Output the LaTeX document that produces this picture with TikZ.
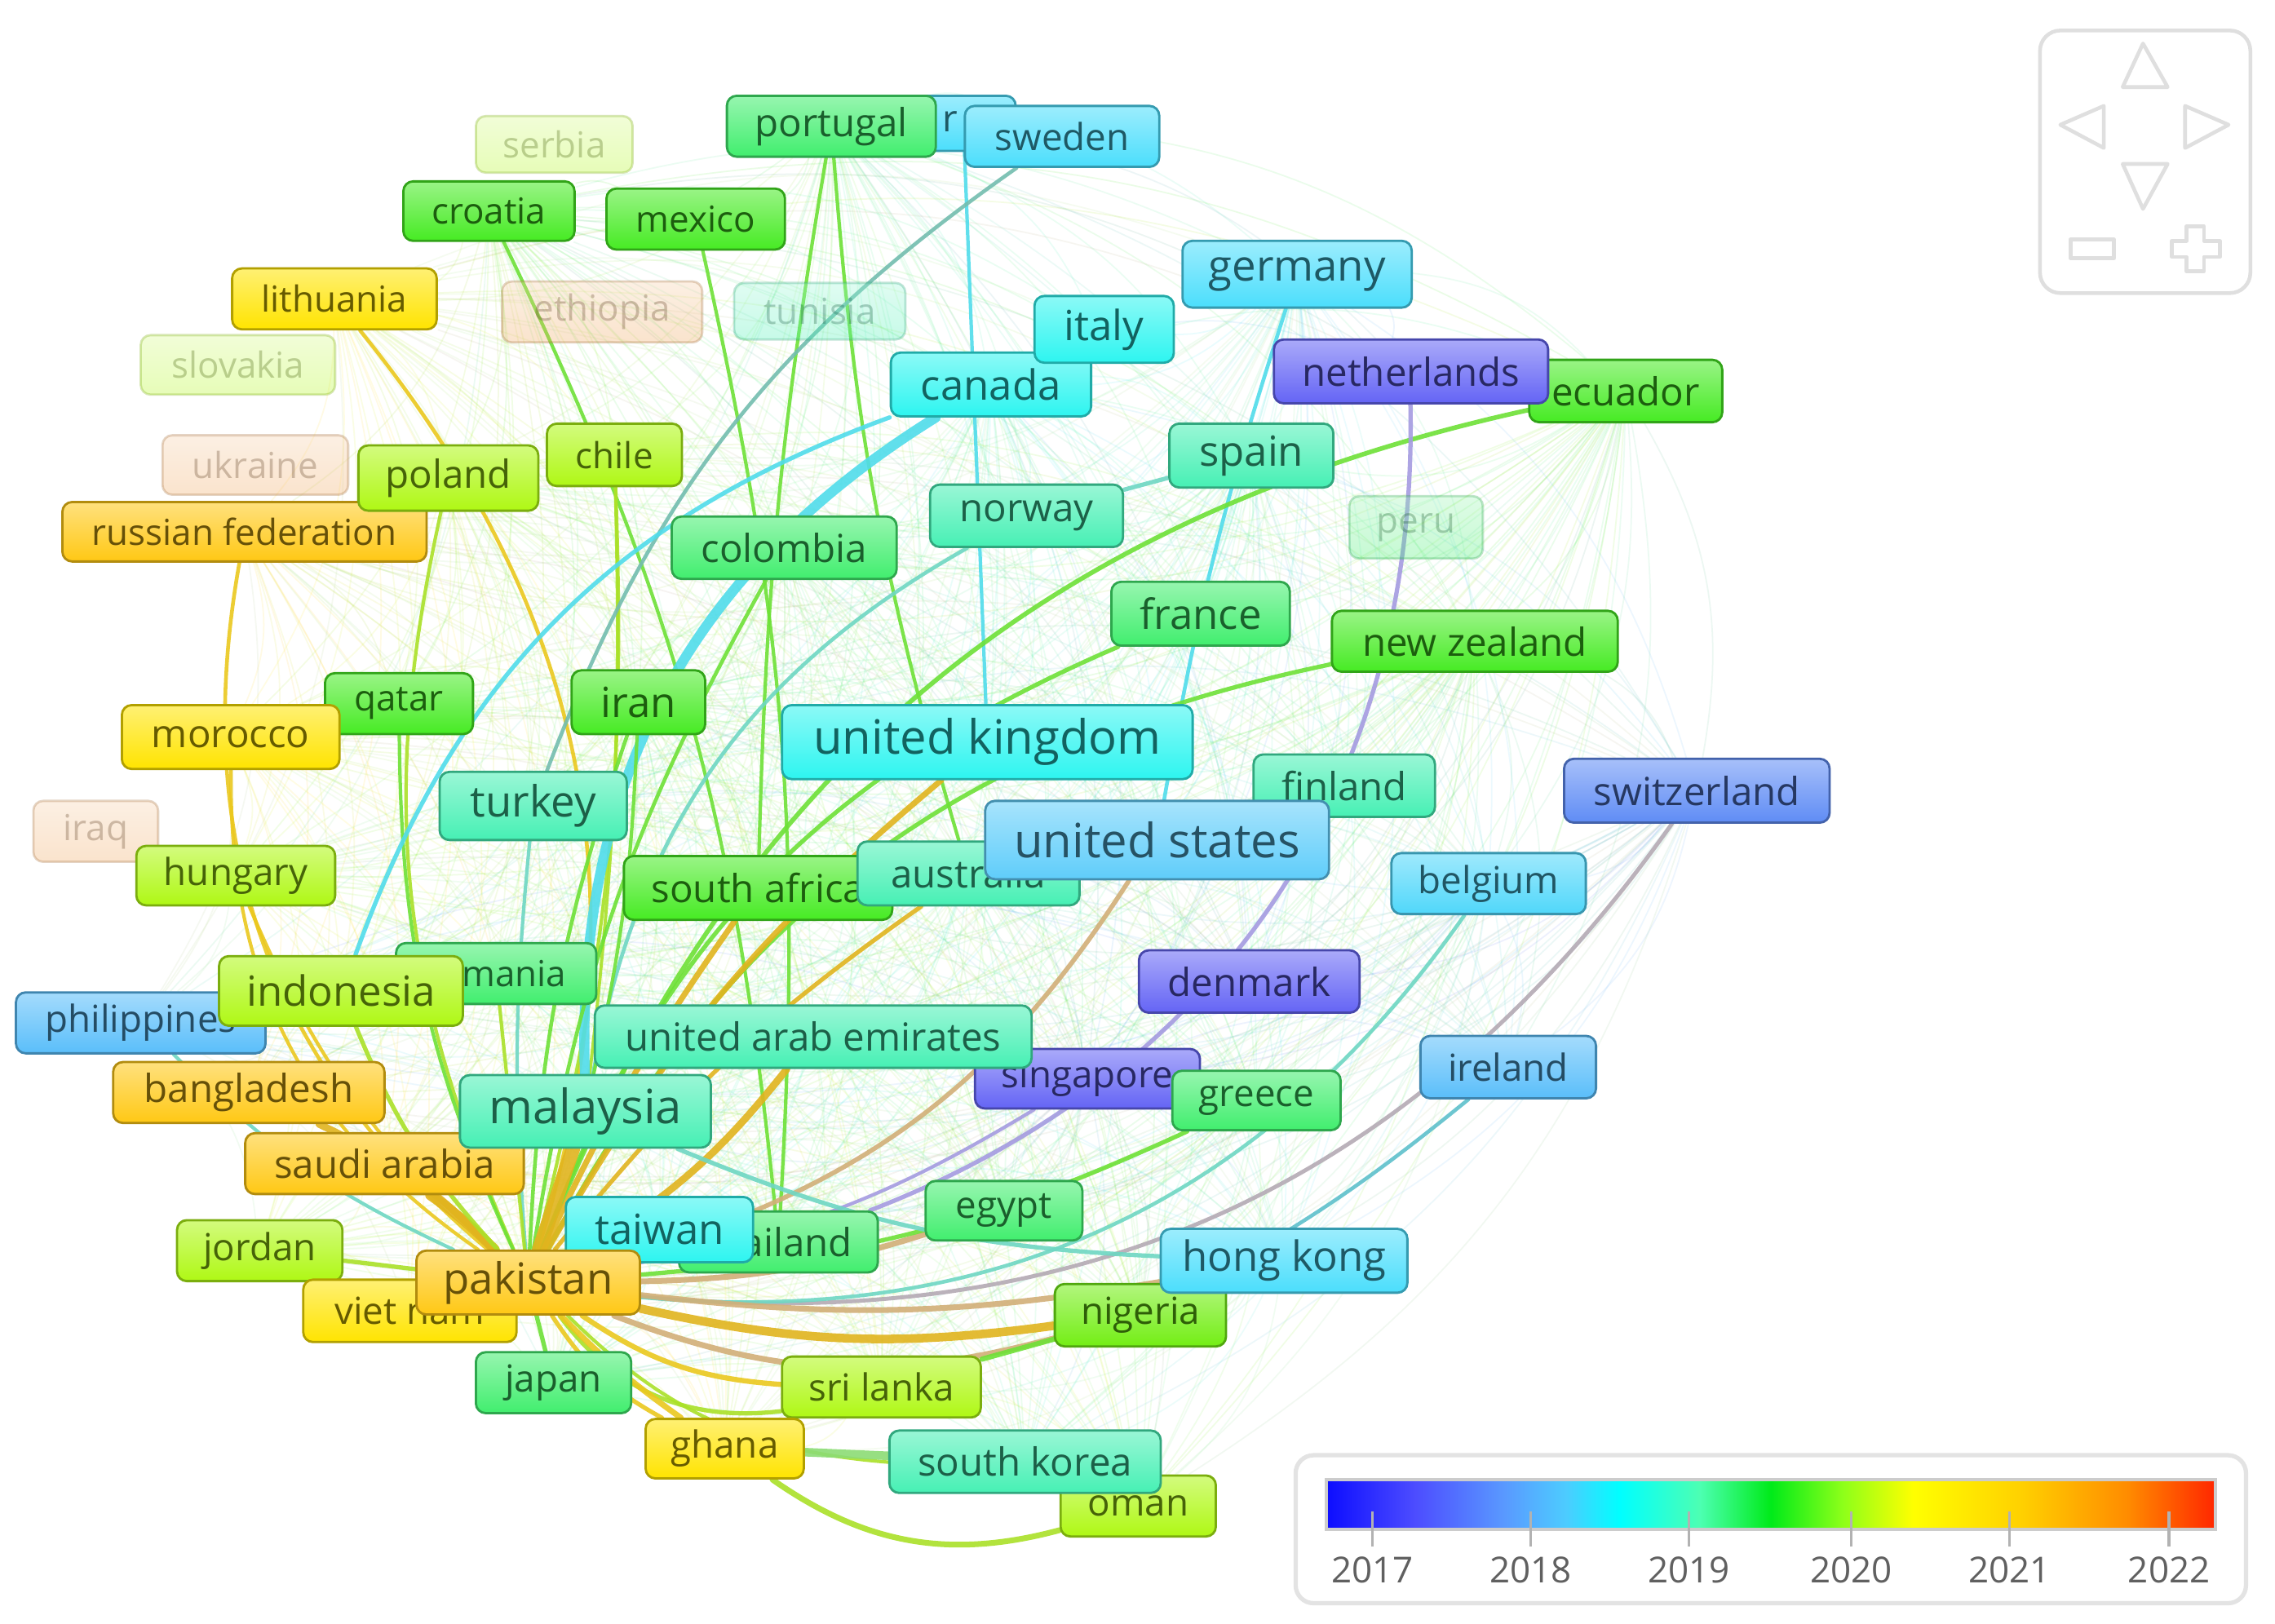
\documentclass[tikz,border=0pt]{standalone}
\usepackage{fontspec}
\setmainfont{Open Sans}
\pgfdeclarelayer{bgl}\pgfdeclarelayer{edges}\pgfsetlayers{bgl,edges,main}
\definecolor{cPur}{RGB}{100,100,245}
\definecolor{cSwi}{RGB}{95,140,245}
\definecolor{cLB}{RGB}{90,190,250}
\definecolor{cBel}{RGB}{80,215,250}
\definecolor{cUS}{RGB}{95,205,250}
\definecolor{cSky}{RGB}{75,222,252}
\definecolor{cCy}{RGB}{45,245,240}
\definecolor{cAq}{RGB}{70,240,180}
\definecolor{cGr}{RGB}{65,238,110}
\definecolor{cG}{RGB}{70,235,35}
\definecolor{cNG}{RGB}{115,238,20}
\definecolor{cYG}{RGB}{175,248,20}
\definecolor{cY}{RGB}{255,228,0}
\definecolor{cO}{RGB}{255,200,20}
\definecolor{cPe}{RGB}{240,165,90}
\definecolor{eY}{RGB}{235,200,30}
\definecolor{eO}{RGB}{225,180,30}
\definecolor{eG}{RGB}{110,225,55}
\definecolor{eYG}{RGB}{170,225,40}
\definecolor{eT}{RGB}{110,215,195}
\definecolor{eC}{RGB}{80,220,235}
\definecolor{eP}{RGB}{165,155,225}
\definecolor{eTan}{RGB}{210,175,120}
\definecolor{eGray}{RGB}{180,170,180}
\pgfdeclarehorizontalshading{vosbar}{100bp}{rgb(0bp)=(0.05,0.05,1); rgb(25bp)=(0.05,0.05,1); rgb(30bp)=(0.3,0.3,1); rgb(35bp)=(0.35,0.6,1); rgb(38.5bp)=(0.3,0.8,1); rgb(41.5bp)=(0,1,1); rgb(46bp)=(0.3,1,0.7); rgb(50bp)=(0,0.92,0.1); rgb(54bp)=(0.55,1,0.1); rgb(58bp)=(1,1,0); rgb(64bp)=(1,0.82,0); rgb(70bp)=(1,0.55,0); rgb(75bp)=(1,0.15,0); rgb(100bp)=(1,0.15,0)}
\tikzset{
  lbl/.style={rectangle, rounded corners=1.2mm, draw=#1!70!black, line width=0.8pt,
    top color=#1!55!white, bottom color=#1, text=#1!40!black, inner sep=0pt},
  flbl/.style={lbl=#1, opacity=0.3},
  faint/.style={line width=0.5pt, opacity=0.11},
  navline/.style={draw=gray!25, line width=1.3pt, line join=round},
}
\newcommand\vlab[8]{\node[lbl=#6, minimum width={(#4-#2)*0.17787mm}, minimum height={(#5-#3)*0.17787mm}, font=\fontsize{#7pt}{#7pt}\selectfont] (#1) at ({(#2+#4)/2},{(#3+#5)/2}) {#8};}
\newcommand\vflab[8]{\node[flbl=#6, minimum width={(#4-#2)*0.17787mm}, minimum height={(#5-#3)*0.17787mm}, font=\fontsize{#7pt}{#7pt}\selectfont] (#1) at ({(#2+#4)/2},{(#3+#5)/2}) {#8};}
\newcommand\vE[5]{\draw[draw=#3, line width=#4, line cap=round, opacity=0.9] (#1) to[bend left=#5] (#2);}
\def\meshlist{portugal/cGr, sweden/cSky, croatia/cG, mexico/cG, lithuania/cY, germany/cSky, italy/cCy, canada/cCy, netherlands/cPur, ecuador/cG, spain/cAq, norway/cAq, colombia/cGr, chile/cYG, poland/cYG, russia/cO, france/cGr, nz/cG, qatar/cG, morocco/cY, iran/cG, uk/cCy, turkey/cAq, finland/cAq, switzerland/cSwi, hungary/cYG, safrica/cG, australia/cAq, us/cSky, belgium/cLB, romania/cGr, indonesia/cYG, philippines/cLB, denmark/cPur, uae/cAq, singapore/cPur, ireland/cLB, greece/cGr, bangladesh/cO, malaysia/cAq, saudi/cO, egypt/cGr, taiwan/cCy, thailand/cGr, jordan/cYG, pakistan/cO, vietnam/cY, hongkong/cSky, nigeria/cNG, japan/cGr, srilanka/cYG, ghana/cY, skorea/cAq, oman/cYG}
\begin{document}
\begin{tikzpicture}[x=0.17787mm, y=-0.17787mm]
\begin{pgfonlayer}{bgl}
\fill[white] (0,0) rectangle (1568,1119);
\end{pgfonlayer}
\useasboundingbox (0,0) rectangle (1568,1119);

% ---------- labels ----------
\vflab{serbia}{328}{80}{436}{119}{cYG}{12.5}{serbia}
\vlab{hid}{628}{66}{700}{104}{cSky}{13}{}
\node[font=\fontsize{13pt}{13pt}\selectfont, text=cSky!40!black] (hidr) at (655,84) {r};
\vlab{portugal}{501}{66}{645}{108}{cGr}{13.5}{portugal}
\vlab{sweden}{665}{73}{799}{115}{cSky}{13}{sweden}
\vlab{croatia}{278}{125}{396}{166}{cG}{12.5}{croatia}
\vlab{mexico}{418}{130}{541}{172}{cG}{12.5}{mexico}
\vlab{lithuania}{160}{185}{301}{227}{cY}{12.5}{lithuania}
\vflab{ethiopia}{346}{194}{484}{236}{cPe}{12.5}{ethiopia}
\vflab{tunisia}{506}{195}{624}{234}{cAq}{12.5}{tunisia}
\vflab{slovakia}{97}{231}{231}{272}{cYG}{12.5}{slovakia}
\vlab{germany}{815}{166}{973}{212}{cSky}{15}{germany}
\vlab{canada}{614}{243}{752}{287}{cCy}{14.5}{canada}
\vlab{italy}{713}{204}{809}{250}{cCy}{14.5}{italy}
\vlab{ecuador}{1054}{248}{1187}{291}{cG}{13.5}{ecuador}
\vlab{netherlands}{878}{234}{1067}{278}{cPur}{13.5}{netherlands}
\vlab{spain}{806}{292}{919}{336}{cAq}{14.5}{spain}
\vflab{peru}{930}{342}{1022}{385}{cGr}{12.5}{peru}
\vlab{norway}{641}{334}{774}{377}{cAq}{13.5}{norway}
\vlab{colombia}{463}{356}{618}{399}{cGr}{13.5}{colombia}
\vlab{chile}{377}{292}{470}{335}{cYG}{12.5}{chile}
\vflab{ukraine}{112}{300}{240}{341}{cPe}{12.5}{ukraine}
\vlab{russia}{43}{346}{294}{387}{cO}{12.5}{russian federation}
\vlab{poland}{247}{307}{371}{352}{cYG}{13.5}{poland}
\vlab{france}{766}{401}{889}{445}{cGr}{14.5}{france}
\vlab{nz}{918}{421}{1115}{463}{cG}{13.5}{new zealand}
\vlab{qatar}{224}{464}{326}{506}{cG}{12.5}{qatar}
\vlab{morocco}{84}{486}{234}{530}{cY}{13.5}{morocco}
\vlab{iran}{394}{462}{486}{506}{cG}{14.5}{iran}
\vlab{uk}{539}{486}{822}{537}{cCy}{16.5}{united kingdom}
\vlab{turkey}{303}{532}{432}{579}{cAq}{15}{turkey}
\vlab{finland}{864}{520}{989}{563}{cAq}{13.5}{finland}
\vlab{switzerland}{1078}{523}{1261}{567}{cSwi}{13.5}{switzerland}
\vflab{iraq}{23}{552}{109}{594}{cPe}{12.5}{iraq}
\vlab{hungary}{94}{583}{231}{624}{cYG}{13}{hungary}
\vlab{safrica}{430}{590}{615}{634}{cG}{13.5}{south africa}
\vlab{australia}{591}{580}{744}{624}{cAq}{13.5}{australia}
\vlab{us}{679}{552}{916}{606}{cUS}{16.5}{united states}
\vlab{belgium}{959}{588}{1093}{630}{cBel}{13}{belgium}
\vlab{romania}{273}{650}{411}{692}{cGr}{12.5}{romania}
\vlab{philippines}{11}{684}{183}{726}{cLB}{13}{philippines}
\vlab{indonesia}{151}{659}{319}{707}{cYG}{14.5}{indonesia}
\vlab{denmark}{785}{655}{937}{698}{cPur}{13.5}{denmark}
\vlab{singapore}{672}{723}{827}{764}{cPur}{13}{singapore}
\vlab{uae}{410}{693}{711}{736}{cAq}{13.5}{united arab emirates}
\vlab{ireland}{979}{714}{1100}{757}{cLB}{13}{ireland}
\vlab{greece}{808}{738}{924}{779}{cGr}{13}{greece}
\vlab{bangladesh}{78}{732}{265}{774}{cO}{13.5}{bangladesh}
\vlab{saudi}{169}{781}{361}{823}{cO}{13.5}{saudi arabia}
\vlab{malaysia}{317}{741}{490}{791}{cAq}{16.5}{malaysia}
\vlab{egypt}{638}{814}{746}{855}{cGr}{13}{egypt}
\vlab{thailand}{468}{835}{605}{877}{cGr}{13.5}{thailand}
\vlab{taiwan}{390}{825}{519}{870}{cCy}{14.5}{taiwan}
\vlab{jordan}{122}{841}{236}{883}{cYG}{13}{jordan}
\vlab{vietnam}{209}{882}{356}{925}{cY}{13}{viet nam}
\vlab{pakistan}{287}{862}{441}{906}{cO}{15}{pakistan}
\vlab{nigeria}{727}{885}{845}{928}{cNG}{13}{nigeria}
\vlab{hongkong}{800}{847}{970}{891}{cSky}{14.5}{hong kong}
\vlab{japan}{328}{932}{435}{974}{cGr}{13}{japan}
\vlab{srilanka}{539}{935}{676}{977}{cYG}{13}{sri lanka}
\vlab{ghana}{445}{978}{554}{1019}{cY}{13}{ghana}
\vlab{oman}{731}{1017}{838}{1059}{cYG}{13}{oman}
\vlab{skorea}{613}{986}{800}{1029}{cAq}{13.5}{south korea}

% ---------- colour bar ----------
\draw[draw=gray!22, line width=1.5pt, fill=white, rounded corners=2.2mm] (893,1003) rectangle (1548,1105);
\shade[shading=vosbar, draw=gray!40, line width=1.2pt] (914,1020) rectangle (1527,1054);
\foreach \yr/\xx in {2017/946, 2018/1055, 2019/1164, 2020/1276, 2021/1385, 2022/1495}{
  \draw[gray!60, line width=1pt] (\xx,1042) -- (\xx,1066);
  \node[font=\fontsize{12.5pt}{12.5pt}\selectfont, text=gray!75!black] (y\yr) at (\xx,1082) {\yr};
}

% ---------- navigation control ----------
\draw[navline, rounded corners=2.5mm] (1406,21) rectangle (1551,202);
\draw[navline] (1477,30) -- (1494,60) -- (1463,60) -- cycle;
\draw[navline] (1477,144) -- (1494,113) -- (1463,113) -- cycle;
\draw[navline] (1420,86) -- (1450,73) -- (1450,102) -- cycle;
\draw[navline] (1536,86) -- (1506,73) -- (1506,102) -- cycle;
\draw[navline] (1427,165) rectangle (1457,178);
\draw[navline] (1507,156) -- (1519,156) -- (1519,166) -- (1530,166) -- (1530,177) -- (1519,177) -- (1519,187) -- (1507,187) -- (1507,177) -- (1497,177) -- (1497,166) -- (1507,166) -- cycle;

% ---------- edges ----------
\begin{pgfonlayer}{edges}
\foreach \a/\ca [count=\i] in \meshlist {
  \foreach \b/\cb [count=\j] in \meshlist {
    \ifnum\j>\i\relax
      \pgfmathtruncatemacro\rr{mod(\i*7+\j*5,5)}
      \ifnum\rr<3\relax
        \draw[faint, draw=\ca!50!\cb] (\a) to[bend left=20] (\b);
      \fi
    \fi
  }
}
\vE{lithuania}{pakistan}{eY}{1.3pt}{28}
\vE{russia}{pakistan}{eY}{1.3pt}{-30}
\vE{morocco}{pakistan}{eY}{1.2pt}{-28}
\vE{hungary}{pakistan}{eY}{1.2pt}{-12}
\vE{poland}{pakistan}{eYG}{1.2pt}{-18}
\vE{qatar}{pakistan}{eG}{1.2pt}{-12}
\vE{croatia}{thailand}{eG}{1.2pt}{10}
\vE{chile}{pakistan}{eYG}{1.2pt}{8}
\vE{chile}{malaysia}{eYG}{1.1pt}{4}
\vE{mexico}{thailand}{eG}{1.2pt}{8}
\vE{portugal}{safrica}{eG}{1.2pt}{-4}
\vE{portugal}{australia}{eG}{1.2pt}{-6}
\vE{hid}{uk}{eC}{1.2pt}{0}
\vE{sweden}{turkey}{eT!70!gray}{1.3pt}{-17}
\vE{canada}{malaysia}{eC}{3.5pt}{-30}
\vE{canada}{indonesia}{eC}{1.5pt}{-25}
\vE{norway}{malaysia}{eT}{1.3pt}{-25}
\vE{norway}{spain}{eT}{1.5pt}{0}
\vE{germany}{us}{eC}{1.3pt}{-4}
\vE{ecuador}{pakistan}{eG}{1.6pt}{-28}
\vE{france}{pakistan}{eG}{1.5pt}{-23}
\vE{nz}{pakistan}{eG}{1.5pt}{-25}
\vE{netherlands}{thailand}{eP}{1.5pt}{35}
\vE{singapore}{pakistan}{eP}{1.2pt}{10}
\vE{switzerland}{pakistan}{eGray}{1.4pt}{30}
\vE{belgium}{pakistan}{eT}{1.3pt}{30}
\vE{ireland}{nigeria}{eC!70!gray}{1.3pt}{5}
\vE{us}{pakistan}{eTan}{1.6pt}{20}
\vE{iran}{pakistan}{eG}{1.3pt}{-8}
\vE{iran}{malaysia}{eG}{1.2pt}{5}
\vE{turkey}{pakistan}{eT}{1.2pt}{-5}
\vE{colombia}{pakistan}{eG}{1.3pt}{-10}
\vE{bangladesh}{pakistan}{eO}{2.5pt}{10}
\vE{saudi}{pakistan}{eO}{3.5pt}{5}
\vE{malaysia}{pakistan}{eO}{5pt}{0}
\vE{uae}{pakistan}{eO}{2.5pt}{10}
\vE{uk}{pakistan}{eO}{2pt}{-10}
\vE{safrica}{pakistan}{eO}{2pt}{-5}
\vE{australia}{pakistan}{eO}{1.5pt}{-8}
\vE{indonesia}{pakistan}{eYG}{1.5pt}{-10}
\vE{romania}{pakistan}{eYG}{1.2pt}{0}
\vE{philippines}{pakistan}{eT}{1.2pt}{-10}
\vE{jordan}{pakistan}{eYG}{1.5pt}{0}
\vE{vietnam}{pakistan}{eY}{2pt}{0}
\vE{pakistan}{japan}{eG}{1.5pt}{0}
\vE{pakistan}{srilanka}{eY}{1.8pt}{-15}
\vE{pakistan}{srilanka}{eYG}{1.5pt}{-30}
\vE{pakistan}{ghana}{eY}{2pt}{-5}
\vE{pakistan}{ghana}{eY}{1.5pt}{-14}
\vE{pakistan}{nigeria}{eO}{3pt}{-10}
\vE{pakistan}{nigeria}{eTan}{2pt}{-18}
\vE{pakistan}{hongkong}{eTan}{2pt}{-8}
\vE{pakistan}{egypt}{eTan}{2pt}{-8}
\vE{pakistan}{greece}{eG}{1.5pt}{-10}
\vE{pakistan}{skorea}{eYG}{1.2pt}{-20}
\vE{ghana}{skorea}{eT!50!eYG}{3pt}{0}
\vE{ghana}{oman}{eYG}{2pt}{-25}
\vE{srilanka}{nigeria}{eG}{1.8pt}{0}
\vE{malaysia}{hongkong}{eT}{1.5pt}{-10}
\end{pgfonlayer}
\end{tikzpicture}
\end{document}
